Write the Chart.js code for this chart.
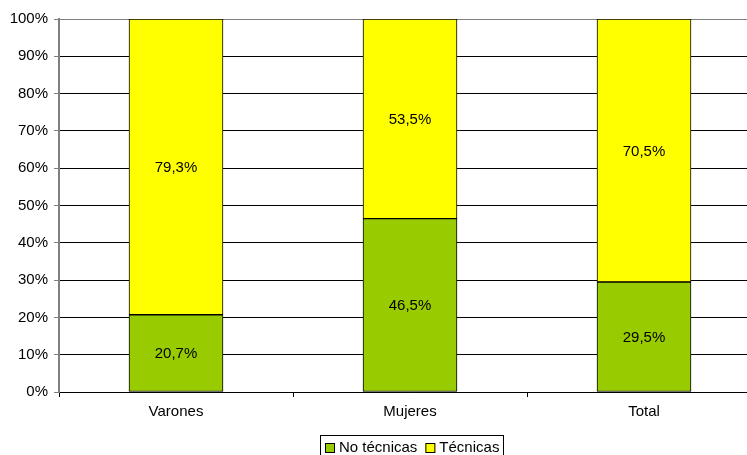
<!DOCTYPE html>
<html>
<head>
<meta charset="utf-8">
<script src="https://cdn.jsdelivr.net/npm/chart.js@4"></script>
<style>
  body { margin: 0; background: #fff; overflow: hidden; }
  #wrap { width: 747px; height: 455px; overflow: hidden; }
</style>
</head>
<body>
<div id="wrap"><canvas id="graphics" width="775" height="455"></canvas></div>
<script>
const categorias = ['Varones', 'Mujeres', 'Total'];
const noTecnicas = [20.7, 46.5, 29.5];
const tecnicas = [79.3, 53.5, 70.5];
const series = ['No técnicas', 'Técnicas'];
const colores = ['#99CC00', '#FFFF00'];

const fuente = { family: 'Arial, "Liberation Sans", sans-serif', size: 15 };

// labels inside each segment, e.g. "20,7%"
const etiquetas = {
    id: 'etiquetas',
    afterDatasetsDraw(chart) {
        const c = chart.ctx;
        c.save();
        c.font = '15px Arial, "Liberation Sans", sans-serif';
        c.fillStyle = '#000';
        c.textAlign = 'center';
        c.textBaseline = 'middle';
        chart.data.datasets.forEach((ds, i) => {
            chart.getDatasetMeta(i).data.forEach((bar, j) => {
                const txt = ds.data[j].toFixed(1).replace('.', ',') + '%';
                c.fillText(txt, bar.x, (bar.y + bar.base) / 2 + 1);
            });
        });
        c.restore();
    }
};

// legend with a box around it, drawn below the axis labels
const leyenda = {
    id: 'leyenda',
    afterDraw(chart) {
        const c = chart.ctx;
        c.save();
        c.font = '15px Arial, "Liberation Sans", sans-serif';
        c.textBaseline = 'middle';
        const box = 10, gap = 4, sep = 8;
        let w = 5;
        chart.data.datasets.forEach((ds, i) => {
            w += box + gap + c.measureText(ds.label).width + (i < chart.data.datasets.length - 1 ? sep : 0);
        });
        w += 4;
        const x0 = 320, y0 = 435, h = 20;
        c.fillStyle = '#fff';
        c.fillRect(x0, y0, w, h);
        c.strokeStyle = '#000';
        c.lineWidth = 1;
        c.strokeRect(x0 + 0.5, y0 + 0.5, Math.round(w), h);
        let x = x0 + 5;
        const ym = y0 + 13;
        chart.data.datasets.forEach((ds) => {
            c.fillStyle = ds.backgroundColor;
            c.fillRect(x, ym - 5, box, box);
            c.strokeStyle = '#000';
            c.strokeRect(x + 0.5, ym - 5 + 0.5, box - 1, box - 1);
            x += box + gap;
            c.fillStyle = '#000';
            c.fillText(ds.label, x, ym);
            x += c.measureText(ds.label).width + sep;
        });
        c.restore();
    }
};

const ctx = document.getElementById('graphics');

new Chart(ctx, {
    type: 'bar',
    data: {
        labels: categorias,
        datasets: [{
            label: series[0],
            data: noTecnicas,
            backgroundColor: colores[0],
            borderColor: '#000',
            borderWidth: 1,
            borderSkipped: false,
            barThickness: 94
        }, {
            label: series[1],
            data: tecnicas,
            backgroundColor: colores[1],
            borderColor: '#000',
            borderWidth: 1,
            borderSkipped: false,
            barThickness: 94
        }]
    },
    options: {
        responsive: false,
        animation: false,
        layout: { padding: { top: 19, right: 14, bottom: 30, left: 0 } },
        plugins: {
            legend: { display: false },
            tooltip: { enabled: false }
        },
        scales: {
            x: {
                stacked: true,
                grid: {
                    offset: true,
                    drawOnChartArea: false,
                    color: '#000',
                    tickLength: 5
                },
                border: { color: '#000' },
                ticks: { color: '#000', font: fuente, padding: 6 },
                afterFit: (s) => { s.height = 33; }
            },
            y: {
                stacked: true,
                min: 0,
                max: 100,
                ticks: {
                    stepSize: 10,
                    color: '#000',
                    font: fuente,
                    padding: 6,
                    callback: (v) => v + '%'
                },
                grid: {
                    color: (c) => c.tick && c.tick.value === 100 ? '#808080' : '#000',
                    tickColor: '#808080',
                    tickLength: 5
                },
                border: { color: '#808080', width: 2 },
                afterFit: (s) => { s.width = 59; }
            }
        }
    },
    plugins: [etiquetas, leyenda]
});
</script>
</body>
</html>
